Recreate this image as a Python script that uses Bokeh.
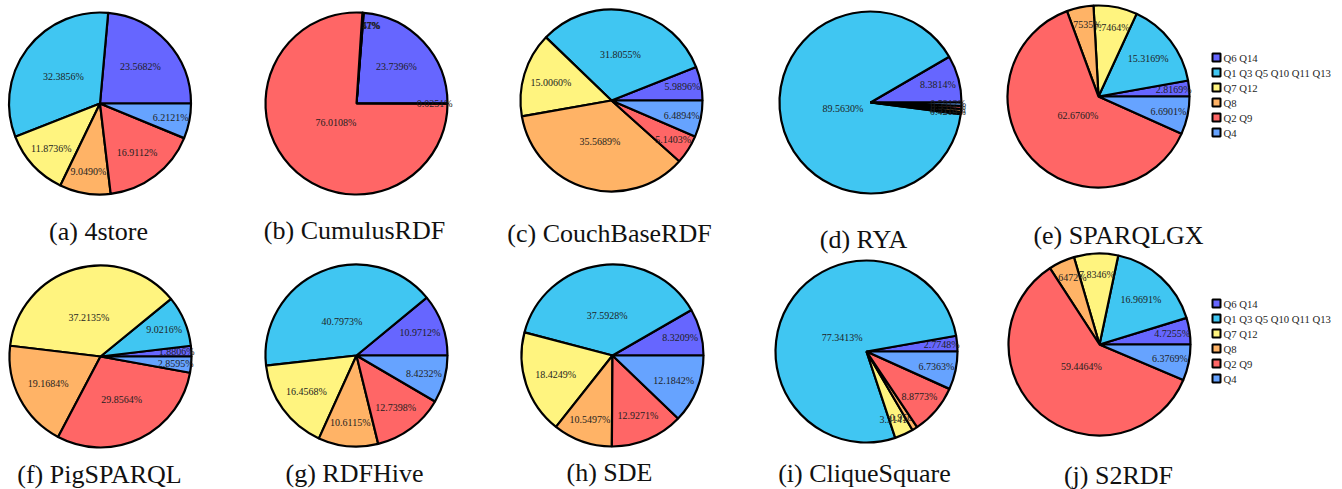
import math
from bokeh.plotting import figure
from bokeh.models import Range1d
from bokeh.embed import file_html
from bokeh.resources import INLINE
from bokeh.core.properties import value

# ---------------- data ----------------
categories = ["Q6 Q14", "Q1 Q3 Q5 Q10 Q11 Q13", "Q7 Q12", "Q8", "Q2 Q9", "Q4"]

v_4store = [23.5682, 32.3856, 11.8736, 9.0490, 16.9112, 6.2121]
v_cumulusrdf = [23.7396, 0.0751, 0.0747, 0.0747, 76.0108, 0.0251]
v_couchbaserdf = [5.9896, 31.8055, 15.0060, 35.5689, 5.1403, 6.4894]
v_rya = [8.3814, 89.5630, 0.4215, 0.5118, 0.5311, 0.5912]
v_sparqlgx = [2.8169, 15.3169, 7.7464, 4.7535, 62.6760, 6.6901]
v_pigsparql = [1.8806, 9.0216, 37.2135, 19.1684, 29.8564, 2.8595]
v_rdfhive = [10.9712, 40.7973, 16.4568, 10.6115, 12.7398, 8.4232]
v_sde = [8.3209, 37.5928, 18.4249, 10.5497, 12.9271, 12.1842]
v_cliquesquare = [2.7748, 77.3413, 3.3141, 0.9562, 8.8773, 6.7363]
v_s2rdf = [4.7255, 16.9691, 7.8346, 4.6472, 59.4464, 6.3769]

captions = ["(a) 4store", "(b) CumulusRDF", "(c) CouchBaseRDF", "(d) RYA", "(e) SPARQLGX",
            "(f) PigSPARQL", "(g) RDFHive", "(h) SDE", "(i) CliqueSquare", "(j) S2RDF"]

series = [v_4store, v_cumulusrdf, v_couchbaserdf, v_rya, v_sparqlgx,
          v_pigsparql, v_rdfhive, v_sde, v_cliquesquare, v_s2rdf]

# ---------------- styles / layout ----------------
colors = ["#6666FF", "#40C6F2", "#FFF47F", "#FFB366", "#FF6666", "#66A3FF"]
FONT = value("Liberation Serif")
R = 91
centers = [(99.5, 103), (356, 103), (611, 100), (870, 102), (1098, 96),
           (100, 356), (356, 355), (612, 355), (866, 351), (1099, 344)]
cap_pos = [(98, 231), (354, 230), (609, 233), (863, 239), (1118, 235),
           (99, 474), (354, 473), (609, 472), (864, 473), (1118, 475)]
legend_pies = [4, 9]
legend_first_row = {4: 57, 9: 303}
legend_sq_x = 1216
legend_txt_x = 1223
legend_step = 15

W, H = 1342, 489


def Y(v):
    return H - v


p = figure(width=W, height=H, x_range=Range1d(0, W), y_range=Range1d(0, H),
           output_backend="svg", toolbar_location=None, min_border=0,
           x_axis_location=None, y_axis_location=None)
p.grid.visible = False
p.outline_line_color = None
p.background_fill_color = "white"
p.border_fill_color = "white"

for idx, vals in enumerate(series):
    cx, cyr = centers[idx]
    cy = Y(cyr)
    total = sum(vals)
    a0 = 0.0
    for k, v in enumerate(vals):
        a1 = a0 + 2 * math.pi * v / total
        p.wedge(x=[cx], y=[cy], radius=R, start_angle=a0, end_angle=a1,
                fill_color=colors[k], line_color="black", line_width=2.2)
        mid = (a0 + a1) / 2
        f = max(0.31, 0.86 - 0.011 * v)
        p.text(x=[cx + f * R * math.cos(mid)], y=[cy + f * R * math.sin(mid)],
               text=[f"{v:.4f}%"], text_font=FONT, text_font_size="10px",
               text_align="center", text_baseline="middle", text_color="#1e1e1e")
        a0 = a1
    capx, capy = cap_pos[idx]
    p.text(x=[capx], y=[Y(capy)], text=[captions[idx]], text_font=FONT,
           text_font_size="26px", text_align="center", text_baseline="alphabetic",
           text_color="#111111")

for idx in legend_pies:
    ys = [Y(legend_first_row[idx] + legend_step * i) for i in range(len(categories))]
    p.rect(x=[legend_sq_x] * len(categories), y=ys, width=8, height=8,
           fill_color=colors, line_color="black", line_width=2)
    p.text(x=[legend_txt_x] * len(categories), y=ys, text=categories, text_font=FONT,
           text_font_size="10.7px", text_align="left", text_baseline="middle",
           text_color="#1e1e1e")

open("out.html", "w").write(file_html(p, INLINE))
